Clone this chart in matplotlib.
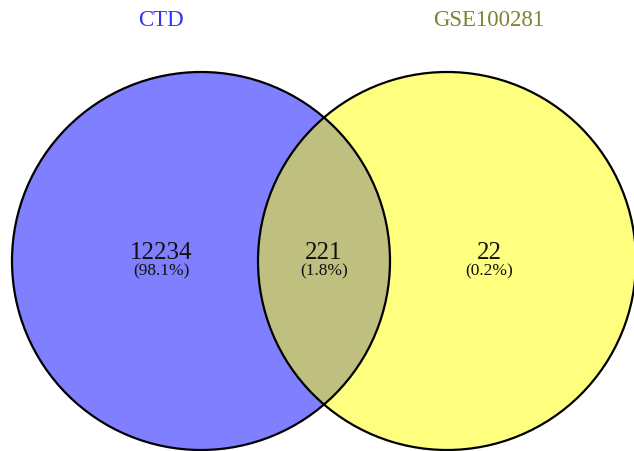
import matplotlib
matplotlib.use("Agg")
import matplotlib.pyplot as plt
from matplotlib.patches import Circle

set_names = ["CTD", "GSE100281"]
region_counts = [12234, 221, 22]
region_pcts = ["(98.1%)", "(1.8%)", "(0.2%)"]
set_colors = ["#0000FF", "#FFFF00"]
title_colors = ["#3333FF", "#808033"]

W, H = 634, 451
fig = plt.figure(figsize=(W / 100, H / 100), dpi=100)
ax = fig.add_axes([0, 0, 1, 1])
ax.set_xlim(0, W)
ax.set_ylim(H, 0)
ax.axis("off")

r = 189
centers = [(201, 261), (447, 261)]
for (cx, cy), col in zip(centers, set_colors):
    ax.add_patch(Circle((cx, cy), r, facecolor=col, alpha=0.5, edgecolor="none"))
for (cx, cy) in centers:
    ax.add_patch(Circle((cx, cy), r, facecolor="none", edgecolor="black", lw=1.6))

fam = ["Liberation Serif", "DejaVu Serif"]
label_x = [161, 324, 489]
for x, n, p in zip(label_x, region_counts, region_pcts):
    ax.text(x, 253, str(n), ha="center", va="center", fontsize=18, family=fam, color="#111111")
    ax.text(x, 271, p, ha="center", va="center", fontsize=12.5, family=fam, color="#111111")

for x, name, c in zip([161, 489], set_names, title_colors):
    ax.text(x, 21, name, ha="center", va="center", fontsize=16.5, family=fam, color=c)

fig.savefig("out.png", dpi=100)
